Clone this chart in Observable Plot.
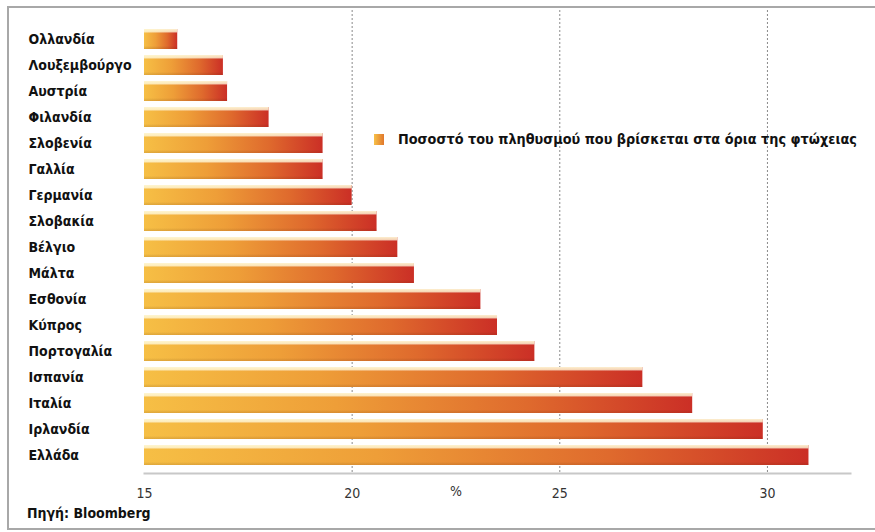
<!DOCTYPE html>
<html>
<head>
<meta charset="utf-8">
<script src="https://cdn.jsdelivr.net/npm/d3@7"></script>
<script src="https://cdn.jsdelivr.net/npm/@observablehq/plot@0.6"></script>
<style>
  html, body { margin: 0; padding: 0; background: #fff; }
  #wrap { position: relative; width: 875px; height: 532px; overflow: hidden; }
  #border { position: absolute; left: 7px; top: 6px; width: 880px; height: 524px; border: 2px solid #a8a8a8; box-sizing: border-box; }
  #chart { position: absolute; left: 0; top: 0; }
  .lbl { font-family: "DejaVu Sans Condensed", "DejaVu Sans", sans-serif; font-weight: bold; color: #111; }
  #legend { position: absolute; left: 374px; top: 131px; display: flex; align-items: center; font-size: 14.3px; }
  #legend .sw { width: 10px; height: 11px; margin-right: 14px; background: linear-gradient(90deg, #f7c048, #e0782c); }
  #source { position: absolute; left: 27px; top: 505px; font-size: 14px; line-height: 16px; }
</style>
</head>
<body>
<div id="wrap">
  <div id="border"></div>
  <div id="chart"></div>
  <div id="legend" class="lbl"><div class="sw"></div><span id="legendText"></span></div>
  <div id="source" class="lbl"></div>
</div>
<script>
const countries = ["Ολλανδία","Λουξεμβούργο","Αυστρία","Φιλανδία","Σλοβενία","Γαλλία","Γερμανία","Σλοβακία","Βέλγιο","Μάλτα","Εσθονία","Κύπρος","Πορτογαλία","Ισπανία","Ιταλία","Ιρλανδία","Ελλάδα"];
const values = [15.8, 16.9, 17.0, 18.0, 19.3, 19.3, 20.0, 20.6, 21.1, 21.5, 23.1, 23.5, 24.4, 27.0, 28.2, 29.9, 31.0];
const xTicks = [15, 20, 25, 30];
const gridTicks = [20, 25, 30];
const seriesName = "Ποσοστό του πληθυσμού που βρίσκεται στα όρια της φτώχειας";
const unitLabel = "%";
const sourceText = "Πηγή: Bloomberg";

const data = countries.map((c, i) => ({country: c, value: values[i]}));
const unitPos = [(xTicks[1] + xTicks[2]) / 2];

const plot = Plot.plot({
  width: 875,
  height: 532,
  marginLeft: 144,
  marginRight: 25,
  marginTop: 20,
  marginBottom: 59,
  style: {background: "transparent", overflow: "visible"},
  x: {domain: [15, 32], ticks: xTicks},
  y: {domain: countries, paddingInner: 0.25, paddingOuter: 0.11},
  marks: [
    Plot.ruleX(gridTicks, {stroke: "#8a8a8a", strokeDasharray: "2,2", strokeWidth: 1, insetTop: -10}),
    Plot.frame({anchor: "bottom", stroke: "#c8c8c8", strokeWidth: 2}),
    Plot.barX(data, {x1: 15, x2: "value", y: "country", fill: "url(#barGrad)"}),
    Plot.barX(data, {x1: 15, x2: "value", y: "country", fill: "url(#shadeGrad)"}),
    Plot.axisX({ticks: xTicks, tickSize: 0, tickPadding: 15, label: null,
      fontSize: 14, fill: "#333",
      fontFamily: "'DejaVu Sans Condensed', sans-serif"}),
    Plot.text(unitPos, {x: d => d, frameAnchor: "bottom", dy: 22, text: () => unitLabel,
      fontSize: 14, fill: "#333", fontFamily: "'DejaVu Sans Condensed', sans-serif"}),
    Plot.axisY({tickSize: 0, tickPadding: 0, textAnchor: "start", dx: -116, label: null,
      fontSize: 14, fontWeight: "bold", fill: "#111",
      fontFamily: "'DejaVu Sans Condensed', 'DejaVu Sans', sans-serif"})
  ]
});

const svgNS = "http://www.w3.org/2000/svg";
const defs = document.createElementNS(svgNS, "defs");
defs.innerHTML = `
  <linearGradient id="barGrad" x1="0" y1="0" x2="1" y2="0">
    <stop offset="0" stop-color="#f6bf45"/>
    <stop offset="0.35" stop-color="#ee9e38"/>
    <stop offset="0.7" stop-color="#df6a2d"/>
    <stop offset="1" stop-color="#cb2f26"/>
  </linearGradient>
  <linearGradient id="shadeGrad" x1="0" y1="0" x2="0" y2="1">
    <stop offset="0" stop-color="#fff8d8" stop-opacity="0.95"/>
    <stop offset="0.14" stop-color="#fff8d8" stop-opacity="0.8"/>
    <stop offset="0.2" stop-color="#ffffff" stop-opacity="0"/>
    <stop offset="0.85" stop-color="#000000" stop-opacity="0"/>
    <stop offset="1" stop-color="#6a2a00" stop-opacity="0.15"/>
  </linearGradient>`;
plot.insertBefore(defs, plot.firstChild);
document.getElementById("chart").appendChild(plot);
document.getElementById("legendText").textContent = seriesName;
document.getElementById("source").textContent = sourceText;
</script>
</body>
</html>
